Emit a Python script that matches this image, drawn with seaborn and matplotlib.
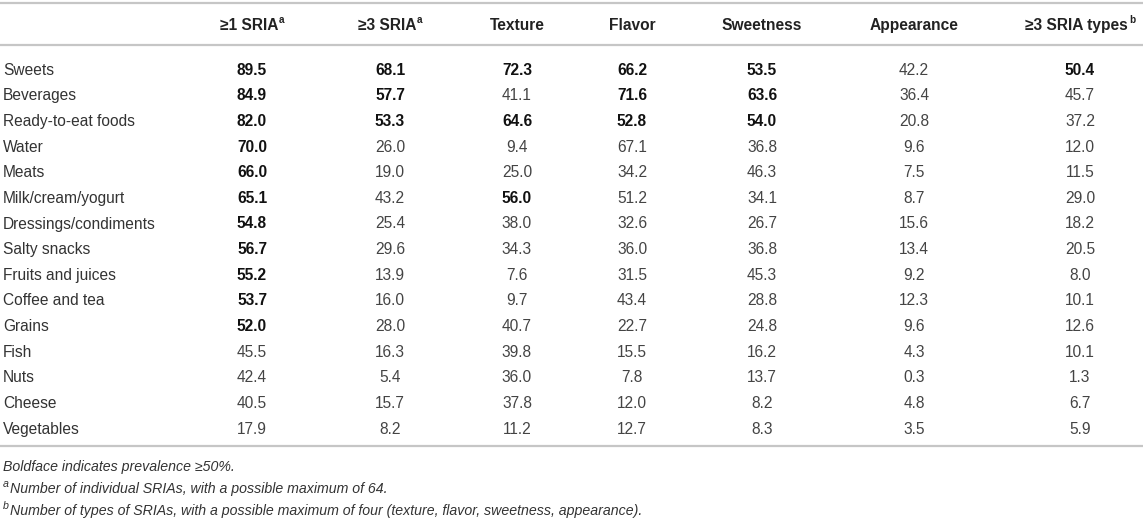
import matplotlib.pyplot as plt
import seaborn as sns

# table content
foods = ["Sweets", "Beverages", "Ready-to-eat foods", "Water", "Meats",
         "Milk/cream/yogurt", "Dressings/condiments", "Salty snacks",
         "Fruits and juices", "Coffee and tea", "Grains", "Fish", "Nuts",
         "Cheese", "Vegetables"]
headers = ["≥1 SRIA", "≥3 SRIA", "Texture", "Flavor", "Sweetness",
           "Appearance", "≥3 SRIA types"]
header_sup = ["a", "a", "", "", "", "", "b"]

sria_1 = [89.5, 84.9, 82.0, 70.0, 66.0, 65.1, 54.8, 56.7, 55.2, 53.7, 52.0, 45.5, 42.4, 40.5, 17.9]
sria_3 = [68.1, 57.7, 53.3, 26.0, 19.0, 43.2, 25.4, 29.6, 13.9, 16.0, 28.0, 16.3, 5.4, 15.7, 8.2]
texture = [72.3, 41.1, 64.6, 9.4, 25.0, 56.0, 38.0, 34.3, 7.6, 9.7, 40.7, 39.8, 36.0, 37.8, 11.2]
flavor = [66.2, 71.6, 52.8, 67.1, 34.2, 51.2, 32.6, 36.0, 31.5, 43.4, 22.7, 15.5, 7.8, 12.0, 12.7]
sweetness = [53.5, 63.6, 54.0, 36.8, 46.3, 34.1, 26.7, 36.8, 45.3, 28.8, 24.8, 16.2, 13.7, 8.2, 8.3]
appearance = [42.2, 36.4, 20.8, 9.6, 7.5, 8.7, 15.6, 13.4, 9.2, 12.3, 9.6, 4.3, 0.3, 4.8, 3.5]
types_3 = [50.4, 45.7, 37.2, 12.0, 11.5, 29.0, 18.2, 20.5, 8.0, 10.1, 12.6, 10.1, 1.3, 6.7, 5.9]

# cells printed in regular weight in the source even though >= 50
not_bold = [("Water", "Flavor"), ("Milk/cream/yogurt", "Flavor")]

footnotes = ["Boldface indicates prevalence ≥50%.",
             "Number of individual SRIAs, with a possible maximum of 64.",
             "Number of types of SRIAs, with a possible maximum of four (texture, flavor, sweetness, appearance)."]
footnote_sup = ["", "a", "b"]

columns = [sria_1, sria_3, texture, flavor, sweetness, appearance, types_3]

sns.set_theme(style="white")
plt.rcParams["font.family"] = ["Liberation Sans", "DejaVu Sans"]

W, H = 1143, 524
fig = plt.figure(figsize=(W / 100, H / 100), dpi=100)
ax = fig.add_axes([0, 0, 1, 1])
ax.set_xlim(0, W)
ax.set_ylim(H, 0)
ax.axis("off")
renderer = fig.canvas.get_renderer()

col_x = [252, 390, 517, 632, 762, 914, 1080]
header_y = 24
row_y0, row_step = 69, 25.65
fs = 11.2
line_kw = dict(color="#c6c6c6", lw=1.6)


def width_of(t):
    return t.get_window_extent(renderer).width


def text_with_sup(x, y, main, sup, center=True, sup_scale=0.64, **kw):
    # y is the visual middle of capitals; draw on the baseline below it
    base = y + kw["fontsize"] * 0.5
    t = ax.text(x, base, main, ha="left", va="baseline", **kw)
    w = width_of(t)
    ws = 0
    s = None
    if sup:
        s_kw = dict(kw)
        s_kw["fontsize"] = kw["fontsize"] * sup_scale
        s = ax.text(x, base - kw["fontsize"] * 0.55, sup, ha="left", va="baseline", **s_kw)
        ws = width_of(s) + 1
    x0 = x - (w + ws) / 2 if center else x
    t.set_x(x0)
    if s is not None:
        if center:
            s.set_x(x0 + w + 1)
        else:
            t.set_x(x0 + ws)
            s.set_x(x0)
    return t


# rules
for yy in [3, 45, 446]:
    ax.plot([0, W], [yy, yy], **line_kw)

# header
for x, name, sup in zip(col_x, headers, header_sup):
    text_with_sup(x, header_y, name, sup, fontsize=fs, fontweight="bold", color="#222222")

# body
for i, food in enumerate(foods):
    y = row_y0 + i * row_step + fs * 0.5
    ax.text(3, y, food, ha="left", va="baseline", fontsize=fs, color="#333333")
    for x, name, vals in zip(col_x, headers, columns):
        v = vals[i]
        bold = v >= 50 and (food, name) not in not_bold
        ax.text(x, y, f"{v:.1f}", ha="center", va="baseline", fontsize=fs,
                fontweight="bold" if bold else "normal",
                color="#111111" if bold else "#444444")

# footnotes
for k, (note, sup) in enumerate(zip(footnotes, footnote_sup)):
    text_with_sup(3, 466 + k * 22, note, sup, center=False, sup_scale=0.75,
                  fontsize=10.2, style="italic", color="#333333")

fig.savefig("out.png", dpi=100)
